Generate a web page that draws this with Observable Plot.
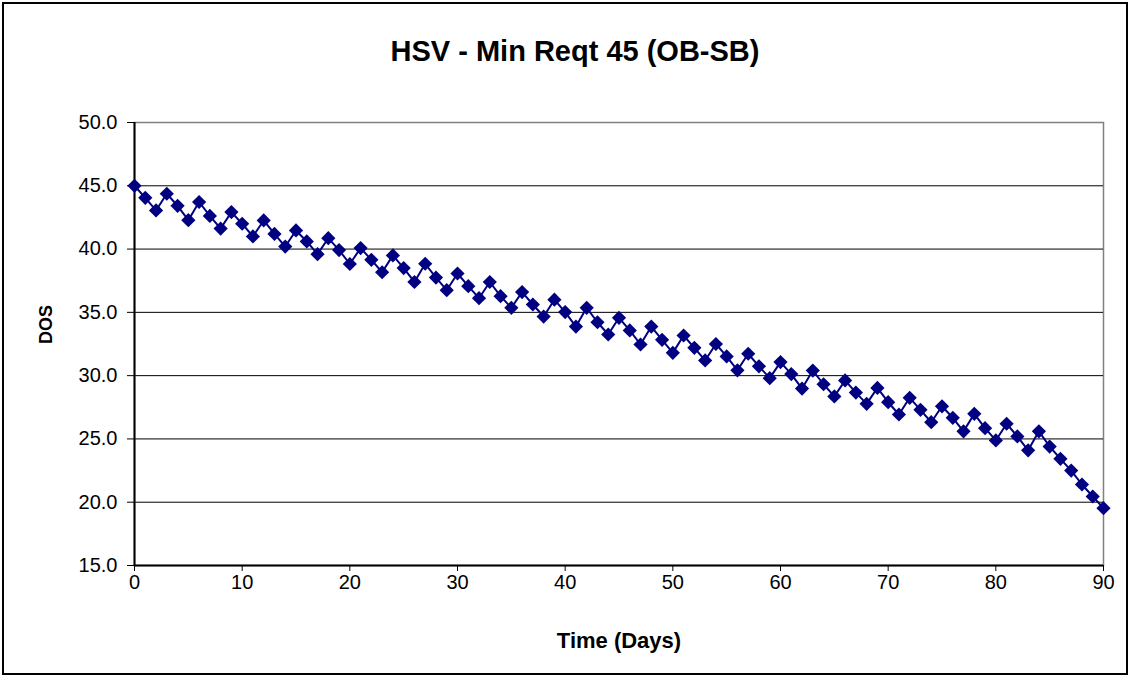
<!DOCTYPE html>
<html>
<head>
<meta charset="utf-8">
<script src="https://cdn.jsdelivr.net/npm/d3@7"></script>
<script src="https://cdn.jsdelivr.net/npm/@observablehq/plot@0.6"></script>
<style>
  html, body { margin: 0; padding: 0; background: #fff; }
  svg { display: block; }
</style>
</head>
<body>
<div id="chart"></div>
<script>
const title = "HSV - Min Reqt 45 (OB-SB)";
const xLabel = "Time (Days)";
const yLabel = "DOS";

const days = [0,1,2,3,4,5,6,7,8,9,10,11,12,13,14,15,16,17,18,19,20,21,22,23,24,25,26,27,28,29,30,
  31,32,33,34,35,36,37,38,39,40,41,42,43,44,45,46,47,48,49,50,51,52,53,54,55,56,57,58,59,60,
  61,62,63,64,65,66,67,68,69,70,71,72,73,74,75,76,77,78,79,80,81,82,83,84,85,86,87,88,89,90];

const dos = [45.0,44.05,43.05,44.37,43.42,42.28,43.72,42.62,41.62,42.92,42.0,41.0,42.26,41.2,40.2,
  41.47,40.6,39.6,40.86,39.92,38.82,40.08,39.15,38.17,39.5,38.5,37.4,38.84,37.75,36.75,
  38.07,37.07,36.12,37.4,36.28,35.36,36.6,35.62,34.67,36.0,35.02,33.88,35.36,34.22,33.25,
  34.57,33.57,32.46,33.88,32.83,31.8,33.17,32.2,31.2,32.5,31.52,30.42,31.73,30.74,29.8,
  31.07,30.12,28.98,30.4,29.32,28.36,29.62,28.66,27.77,29.03,27.9,26.93,28.25,27.3,26.32,
  27.58,26.67,25.6,26.98,25.85,24.88,26.2,25.2,24.1,25.6,24.4,23.43,22.5,21.4,20.45,19.53];

const xTicks = [0,10,20,30,40,50,60,70,80,90];
const yTicks = [15,20,25,30,35,40,45,50];
const gridTicks = [20,25,30,35,40,45];

const data = days.map((d, i) => ({day: d, dos: dos[i]}));

const navy = "#000080";

const chart = Plot.plot({
  width: 1130,
  height: 677,
  marginLeft: 134,
  marginRight: 27,
  marginTop: 122,
  marginBottom: 112,
  style: {
    fontFamily: "'Liberation Sans', Arial, sans-serif",
    fontSize: "20px",
    color: "#000",
    background: "#fff",
    outline: "2px solid #000",
    outlineOffset: "-4px"
  },
  x: {domain: [0, 90]},
  y: {domain: [15, 50]},
  marks: [
    Plot.frame({stroke: "#808080", strokeWidth: 1.5}),
    Plot.gridY(gridTicks, {stroke: "#000", strokeOpacity: 1, strokeWidth: 1}),
    Plot.ruleX([0], {stroke: "#000", strokeWidth: 2}),
    Plot.ruleY([15], {stroke: "#000", strokeWidth: 2}),
    Plot.axisY(yTicks, {
      tickFormat: d3.format(".1f"),
      tickSize: 7,
      tickPadding: 10,
      label: null,
      stroke: "#000",
      fill: "#000"
    }),
    Plot.axisX(xTicks, {
      tickFormat: d3.format("d"),
      tickSize: 6,
      tickPadding: 3,
      label: null,
      stroke: "#000",
      fill: "#000"
    }),
    Plot.line(data, {x: "day", y: "dos", stroke: navy, strokeWidth: 2}),
    Plot.dot(data, {x: "day", y: "dos", symbol: "diamond2", r: 6.4, fill: navy, stroke: "none"}),
    Plot.text([title], {
      frameAnchor: "top", dx: -44, dy: -71, lineAnchor: "middle",
      fontSize: 29, fontWeight: "bold", fill: "#000"
    }),
    Plot.text([xLabel], {
      frameAnchor: "bottom", dy: 75, lineAnchor: "middle",
      fontSize: 22, fontWeight: "bold", fill: "#000"
    }),
    Plot.text([yLabel], {
      frameAnchor: "left", dx: -88, rotate: -90, lineAnchor: "middle",
      fontSize: 18, fontWeight: "bold", fill: "#000"
    })
  ]
});

document.getElementById("chart").appendChild(chart);
</script>
</body>
</html>
